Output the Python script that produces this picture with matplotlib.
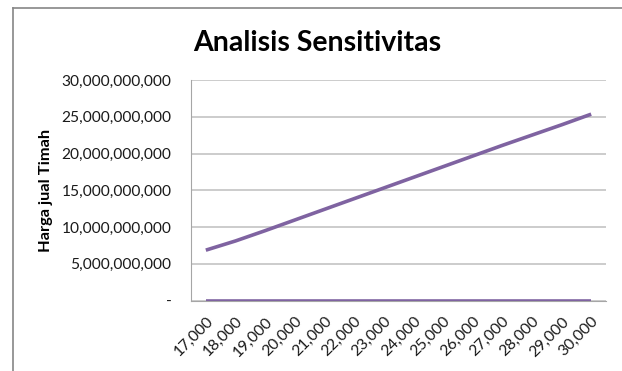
import numpy as np
import matplotlib
matplotlib.use('Agg')
import matplotlib.pyplot as plt
from matplotlib.ticker import FuncFormatter

plt.rcParams['font.family'] = ['Lato', 'DejaVu Sans']

# data
harga = [17000, 18000, 19000, 20000, 21000, 22000, 23000,
         24000, 25000, 26000, 27000, 28000, 29000, 30000]
nilai = [6.85e9, 8.1e9, 9.5e9, 10.95e9, 12.4e9, 13.85e9, 15.3e9,
         16.75e9, 18.2e9, 19.65e9, 21.1e9, 22.5e9, 23.9e9, 25.35e9]
nol = [0] * len(harga)

labels = ["{:,}".format(h) for h in harga]

fig = plt.figure(figsize=(6.22, 3.71), dpi=100, facecolor='w')

# chart border (only top and left visible in the crop)
fig.add_artist(plt.Line2D([13/622, 13/622], [0, 1 - 8/371], color='#868686', lw=1.2))
fig.add_artist(plt.Line2D([13/622, 1], [1 - 8/371, 1 - 8/371], color='#868686', lw=1.2))

ax = fig.add_axes([191/622, 1 - 300.5/371, (606 - 191)/622, (300.5 - 80)/371])

x = np.arange(len(harga))
warna = '#7f63a1'
ax.plot(x, nol, color=warna, lw=2.6, solid_capstyle='butt', zorder=3)
ax.plot(x, nilai, color=warna, lw=2.6, solid_capstyle='butt', zorder=3)

ax.set_xlim(-0.5, len(harga) - 0.5)
ax.set_ylim(0, 30e9)
ax.set_yticks(np.arange(0, 30e9 + 1, 5e9))
ax.yaxis.set_major_formatter(FuncFormatter(lambda v, p: '-' if v == 0 else "{:,.0f}".format(v)))
ax.grid(axis='y', color='#bfbfbf', lw=1.1)
ax.set_axisbelow(True)

ax.set_xticks(x)
ax.set_xticklabels(labels, rotation=45, ha='right', va='top', rotation_mode='anchor', fontsize=11.3)
ax.tick_params(axis='x', length=0, pad=10, labelcolor='#1a1a1a')
ax.tick_params(axis='y', length=0, pad=14, labelsize=11.2, labelcolor='#1a1a1a')

for s in ['top', 'right']:
    ax.spines[s].set_visible(False)
ax.spines['left'].set_color('#a6a6a6')
ax.spines['bottom'].set_color('#a6a6a6')

ax.set_ylabel("Harga jual Timah", fontsize=11.8, fontweight='bold')
ax.yaxis.set_label_coords((53 - 191) / 415, 0.5)
fig.text(317/622, 1 - 43/371, "Analisis Sensitivitas", fontsize=20.5, fontweight='bold',
         ha='center', va='center')

plt.savefig("out.png", dpi=100)
